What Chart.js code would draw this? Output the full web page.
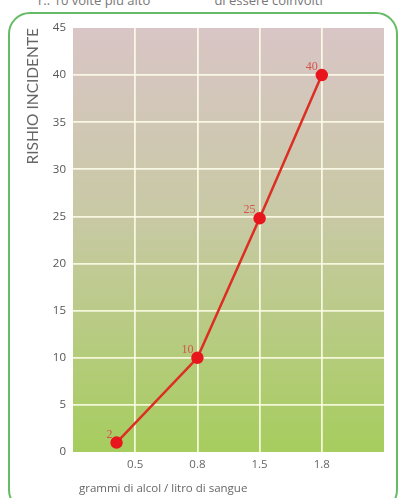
<!DOCTYPE html>
<html>
<head>
<meta charset="utf-8">
<script src="https://cdn.jsdelivr.net/npm/chart.js@4"></script>
<style>
  html, body { margin: 0; padding: 0; background: #fff; }
  body { width: 403px; height: 498px; position: relative; overflow: hidden; font-family: "Open Sans", sans-serif; }
  #topline { position: absolute; left: 38px; top: -9px; font-size: 13px; color: #777; white-space: nowrap; }
  #frame { position: absolute; left: 8px; top: 12px; width: 390px; height: 500px;
           border: 2.5px solid #66bb66; border-radius: 22px; box-sizing: border-box; }
  #wrap { position: absolute; left: 0; top: 0; width: 403px; height: 498px; }
</style>
</head>
<body>
<div id="topline">r.: 10 volte più alto &nbsp; &nbsp; &nbsp; &nbsp; &nbsp; &nbsp; &nbsp; &nbsp; &nbsp; di essere coinvolti</div>
<div id="frame"></div>
<div id="wrap"><canvas id="riskChart" width="403" height="498"></canvas></div>
<script>
// Rischio di incidente rispetto ai grammi di alcol per litro di sangue
const xPositions = [0.7, 2, 3, 4];          // position along the axis (grid slots)
const riskValues = [1, 10, 24.8, 40];      // plotted height
const pointLabels = ['2', '10', '25', '40'];
const xTickLabels = ['', '0.5', '0.8', '1.5', '1.8', ''];

// Gradient background behind the plot area
const plotBackground = {
    id: 'plotBackground',
    beforeDraw(chart) {
        const { ctx, chartArea: a } = chart;
        const g = ctx.createLinearGradient(0, a.top, 0, a.bottom);
        g.addColorStop(0, '#d9c5c6');
        g.addColorStop(0.45, '#c8c9a4');
        g.addColorStop(1, '#a6cd5e');
        ctx.save();
        ctx.fillStyle = g;
        ctx.fillRect(a.left, a.top, a.right - a.left, a.bottom - a.top);
        ctx.restore();
    }
};

// Red number next to each point
const valueLabels = {
    id: 'valueLabels',
    afterDatasetsDraw(chart) {
        const { ctx } = chart;
        const meta = chart.getDatasetMeta(0);
        ctx.save();
        ctx.font = '12px "Liberation Serif", serif';
        ctx.fillStyle = '#d4554c';
        ctx.textAlign = 'right';
        ctx.textBaseline = 'bottom';
        meta.data.forEach((pt, i) => {
            ctx.fillText(pointLabels[i], pt.x - 4, pt.y - 2);
        });
        ctx.restore();
    }
};

const ctx = document.getElementById('riskChart').getContext('2d');
new Chart(ctx, {
    type: 'line',
    data: {
        datasets: [{
            data: xPositions.map((x, i) => ({ x: x, y: riskValues[i] })),
            borderColor: '#dc2e22',
            borderWidth: 2.5,
            pointBackgroundColor: '#e8161c',
            pointBorderColor: '#e8161c',
            pointRadius: 5,
            tension: 0
        }]
    },
    options: {
        responsive: false,
        animation: false,
        layout: { padding: { left: 20, right: 19, top: 28, bottom: 0 } },
        plugins: { legend: { display: false }, tooltip: { enabled: false } },
        scales: {
            x: {
                type: 'linear',
                min: 0,
                max: 5,
                afterFit: s => { s.height = 46; },
                border: { display: false },
                grid: {
                    color: c => (c.tick.value === 0 || c.tick.value === 5) ? 'rgba(0,0,0,0)' : 'rgba(255,255,235,0.85)',
                    lineWidth: 1.8,
                    drawTicks: false
                },
                ticks: {
                    stepSize: 1,
                    padding: 6,
                    color: '#666',
                    font: { family: '"Open Sans", sans-serif', size: 11.5 },
                    callback: v => xTickLabels[v]
                },
                title: {
                    display: true,
                    align: 'start',
                    text: '  grammi di alcol / litro di sangue',
                    color: '#666',
                    padding: { top: 0, bottom: 2 },
                    font: { family: '"Open Sans", sans-serif', size: 11.5 }
                }
            },
            y: {
                min: 0,
                max: 45,
                afterFit: s => { s.width = 53; },
                border: { display: false },
                grid: {
                    color: c => (c.tick.value === 0 || c.tick.value === 45) ? 'rgba(0,0,0,0)' : 'rgba(255,255,235,0.85)',
                    lineWidth: 1.8,
                    drawTicks: false
                },
                ticks: {
                    stepSize: 5,
                    padding: 7,
                    color: '#555',
                    font: { family: '"Open Sans", sans-serif', size: 11.5 }
                },
                title: {
                    display: true,
                    align: 'end',
                    text: 'RISHIO INCIDENTE',
                    color: '#666',
                    padding: { top: 4, bottom: 0 },
                    font: { family: 'Lato, sans-serif', size: 15.5 }
                }
            }
        }
    },
    plugins: [plotBackground, valueLabels]
});
</script>
</body>
</html>
